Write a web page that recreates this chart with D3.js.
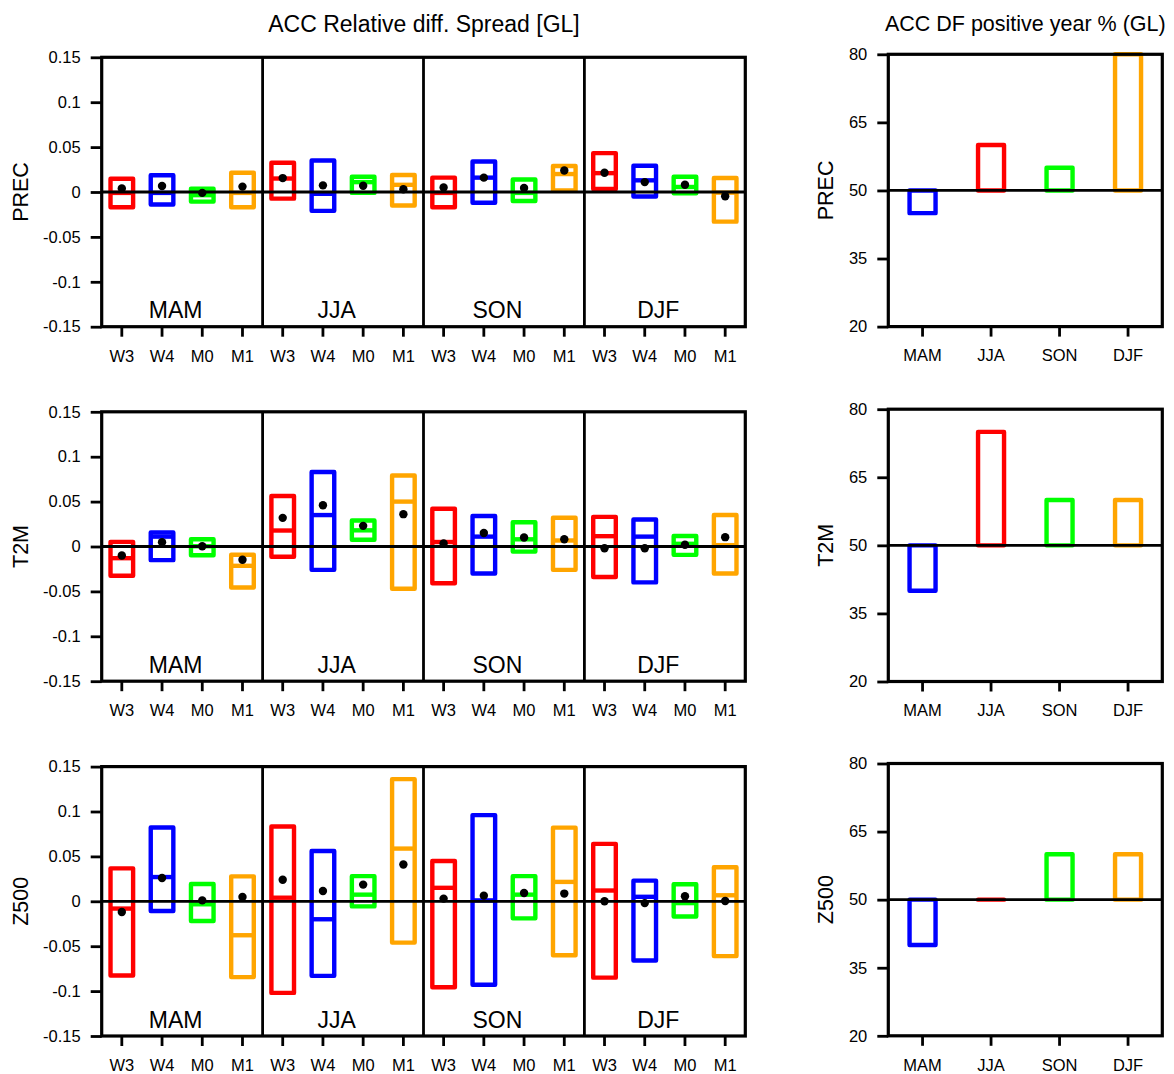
<!DOCTYPE html>
<html>
<head>
<meta charset="utf-8">
<script src="https://cdn.jsdelivr.net/npm/d3@7"></script>
<style>
  html, body { margin: 0; padding: 0; background: #fff; }
  svg { display: block; font-family: "Liberation Sans", Arial, Helvetica, sans-serif; }
</style>
</head>
<body>
<svg id="chart" width="1174" height="1074"></svg>
<script>
// ---------------- DATA ----------------
const seasons = ["MAM", "JJA", "SON", "DJF"];
const leads = ["W3", "W4", "M0", "M1"];
const variables = ["PREC", "T2M", "Z500"];
const leftTitle = "ACC Relative diff. Spread [GL]";
const rightTitle = "ACC DF positive year % (GL)";
const leftTickLabels = ["-0.15", "-0.1", "-0.05", "0", "0.05", "0.1", "0.15"];
const leftTickValues = [-0.15, -0.1, -0.05, 0, 0.05, 0.1, 0.15];
const rightTickLabels = ["20", "35", "50", "65", "80"];
const rightTickValues = [20, 35, 50, 65, 80];

// order: MAM(W3,W4,M0,M1), JJA(...), SON(...), DJF(...)
const precHigh   = [0.0148, 0.0186, 0.0037, 0.0214,  0.0326, 0.035, 0.017, 0.019,   0.016, 0.034, 0.014, 0.029,   0.0433, 0.0293, 0.017, 0.0156];
const precLow    = [-0.017, -0.014, -0.0107, -0.017, -0.0074, -0.021, -0.001, -0.015, -0.017, -0.012, -0.010, 0.0017, 0.0033, -0.005, -0.0015, -0.033];
const precMedian = [-0.001, -0.001, -0.0035, -0.001, 0.015, -0.002, 0.011, 0.008,    -0.001, 0.016, -0.001, 0.02,   0.021, 0.013, 0.0056, -0.0007];
const precMean   = [0.004, 0.0067, -0.001, 0.006,    0.0155, 0.0074, 0.007, 0.003,   0.005, 0.016, 0.0044, 0.024,   0.0215, 0.011, 0.008, -0.0048];

const t2mHigh    = [0.0052, 0.0156, 0.008, -0.0092,  0.0563, 0.083, 0.029, 0.079,    0.042, 0.034, 0.027, 0.032,    0.033, 0.030, 0.0117, 0.035];
const t2mLow     = [-0.0326, -0.0152, -0.0097, -0.0456, -0.0114, -0.026, 0.0075, -0.047, -0.041, -0.030, -0.0057, -0.026, -0.034, -0.040, -0.0093, -0.030];
const t2mMedian  = [-0.013, 0.011, 0.0003, -0.0215,  0.0178, 0.035, 0.018, 0.05,     0.005, 0.011, 0.008, 0.0067,   0.0115, 0.011, 0.003, 0.0015];
const t2mMean    = [-0.010, 0.0048, 0.0003, -0.0148, 0.0319, 0.046, 0.023, 0.036,    0.0033, 0.015, 0.01, 0.008,    -0.002, -0.002, 0.002, 0.0104];

const z500High   = [0.0367, 0.0822, 0.0192, 0.0278,  0.0833, 0.056, 0.028, 0.136,    0.0448, 0.096, 0.028, 0.082,   0.064, 0.023, 0.019, 0.038];
const z500Low    = [-0.0826, -0.0108, -0.0219, -0.0844, -0.102, -0.083, -0.0057, -0.046, -0.0957, -0.093, -0.019, -0.060, -0.085, -0.066, -0.017, -0.061];
const z500Median = [-0.0081, 0.027, -0.0033, -0.0378, 0.004, -0.02, 0.0074, 0.0587,  0.015, 0.001, 0.0074, 0.0216,  0.012, 0.005, -0.002, 0.0067];
const z500Mean   = [-0.0119, 0.026, 0.001, 0.0048,   0.024, 0.0115, 0.0186, 0.041,   0.003, 0.0063, 0.0093, 0.0086, 0.0, -0.002, 0.0056, 0.0004];

// right panels: % of years with positive DF, per season
const precPositive = [45, 60, 55, 80];
const t2mPositive  = [40, 75, 60, 60];
const z500Positive = [40, 50, 60, 60];

const leadColors = ["#ff0000", "#0000ff", "#00ff00", "#ffa500"];
const seasonColors = ["#0000ff", "#ff0000", "#00ff00", "#ffa500"];

// ---------------- BUILD ----------------
const leftData = [
  { name: variables[0], hi: precHigh, lo: precLow, med: precMedian, mean: precMean, pos: precPositive },
  { name: variables[1], hi: t2mHigh,  lo: t2mLow,  med: t2mMedian,  mean: t2mMean,  pos: t2mPositive },
  { name: variables[2], hi: z500High, lo: z500Low, med: z500Median, mean: z500Mean, pos: z500Positive }
];

const svg = d3.select("#chart");
const FONT = '"Liberation Sans", Arial, Helvetica, sans-serif';

const L = { x0: 101.7, x1: 745.3, tops: [57.3, 411.8, 766.6], h: 269.4 };
const R = { x0: 888.3, x1: 1162.3, tops: [54.3, 409.2, 763.5], h: 272.3 };

svg.append("text").attr("x", 424).attr("y", 31.7).attr("text-anchor", "middle")
  .attr("font-size", 23).attr("fill", "#000").text(leftTitle);
svg.append("text").attr("x", 1025.3).attr("y", 30.7).attr("text-anchor", "middle")
  .attr("font-size", 21.5).attr("fill", "#000").text(rightTitle);

function rectPath(xa, xb, ya, yb) {
  const p = d3.path();
  p.moveTo(xa, ya); p.lineTo(xb, ya); p.lineTo(xb, yb); p.lineTo(xa, yb); p.closePath();
  return p.toString();
}

function styleAxis(g, fs) {
  g.select(".domain").remove();
  g.selectAll(".tick line").attr("stroke", "#000").attr("stroke-width", 2.8);
  g.selectAll(".tick text").attr("font-size", fs).attr("font-family", FONT).attr("fill", "#000");
}

leftData.forEach((v, r) => {
  // ---------- left panel ----------
  const top = L.tops[r], bottom = top + L.h;
  const idx = d3.range(seasons.length * leads.length);
  const x = d3.scaleBand().domain(idx).range([L.x0, L.x1]);
  const y = d3.scaleLinear().domain([-0.15, 0.15]).range([bottom, top]);
  const g = svg.append("g");
  const hw = 11.3;

  idx.forEach(i => {
    const cx = x(i) + x.bandwidth() / 2;
    const col = leadColors[i % leads.length];
    g.append("path").attr("d", rectPath(cx - hw, cx + hw, y(v.hi[i]), y(v.lo[i])))
      .attr("fill", "none").attr("stroke", col).attr("stroke-width", 4.4)
      .attr("stroke-linejoin", "round");
    g.append("line").attr("x1", cx - hw).attr("x2", cx + hw)
      .attr("y1", y(v.med[i])).attr("y2", y(v.med[i]))
      .attr("stroke", col).attr("stroke-width", 4.4);
  });
  g.append("line").attr("x1", L.x0).attr("x2", L.x1).attr("y1", y(0)).attr("y2", y(0))
    .attr("stroke", "#000").attr("stroke-width", 2.8);
  idx.forEach(i => {
    const cx = x(i) + x.bandwidth() / 2;
    g.append("circle").attr("cx", cx).attr("cy", y(v.mean[i])).attr("r", 4.2).attr("fill", "#000");
  });
  // season dividers
  [1, 2, 3].forEach(s => {
    const xx = x(s * leads.length);
    g.append("line").attr("x1", xx).attr("x2", xx).attr("y1", top).attr("y2", bottom)
      .attr("stroke", "#000").attr("stroke-width", 2.8);
  });
  // season labels
  seasons.forEach((s, k) => {
    const xa = x(k * leads.length), xb = x(k * leads.length + leads.length - 1) + x.bandwidth();
    g.append("text").attr("x", (xa + xb) / 2 - 6.5).attr("y", bottom - 8.4)
      .attr("text-anchor", "middle").attr("font-size", 23).attr("fill", "#000").text(s);
  });
  g.append("rect").attr("x", L.x0).attr("y", top).attr("width", L.x1 - L.x0).attr("height", L.h)
    .attr("fill", "none").attr("stroke", "#000").attr("stroke-width", 3.2);

  const ya = g.append("g").attr("transform", `translate(${L.x0},0)`)
    .call(d3.axisLeft(y).tickValues(leftTickValues)
      .tickFormat((d, i) => leftTickLabels[i]).tickSize(11).tickPadding(10));
  styleAxis(ya, 16.5);
  const xa = g.append("g").attr("transform", `translate(0,${bottom})`)
    .call(d3.axisBottom(x).tickFormat(i => leads[i % leads.length]).tickSize(10).tickPadding(13.3));
  styleAxis(xa, 16.5);

  g.append("text").attr("transform", `translate(28.3,${(top + bottom) / 2}) rotate(-90)`)
    .attr("text-anchor", "middle").attr("font-size", 21.5).attr("fill", "#000").text(v.name);

  // ---------- right panel ----------
  const rtop = R.tops[r], rbottom = rtop + R.h;
  const xr = d3.scaleBand().domain(seasons).range([R.x0, R.x1]);
  const yr = d3.scaleLinear().domain([20, 80]).range([rbottom, rtop]);
  const gr = svg.append("g");
  const rhw = 13;
  seasons.forEach((s, k) => {
    const cx = xr(s) + xr.bandwidth() / 2;
    gr.append("path").attr("d", rectPath(cx - rhw, cx + rhw, yr(50), yr(v.pos[k])))
      .attr("fill", "none").attr("stroke", seasonColors[k]).attr("stroke-width", 4.4)
      .attr("stroke-linejoin", "round");
  });
  gr.append("line").attr("x1", R.x0).attr("x2", R.x1).attr("y1", yr(50)).attr("y2", yr(50))
    .attr("stroke", "#000").attr("stroke-width", 2.8);
  gr.append("rect").attr("x", R.x0).attr("y", rtop).attr("width", R.x1 - R.x0).attr("height", R.h)
    .attr("fill", "none").attr("stroke", "#000").attr("stroke-width", 3.2);
  const yra = gr.append("g").attr("transform", `translate(${R.x0},0)`)
    .call(d3.axisLeft(yr).tickValues(rightTickValues)
      .tickFormat((d, i) => rightTickLabels[i]).tickSize(11).tickPadding(10));
  styleAxis(yra, 16.5);
  const xra = gr.append("g").attr("transform", `translate(0,${rbottom})`)
    .call(d3.axisBottom(xr).tickSize(10).tickPadding(13));
  styleAxis(xra, 16.5);
  gr.append("text").attr("transform", `translate(833.3,${(rtop + rbottom) / 2}) rotate(-90)`)
    .attr("text-anchor", "middle").attr("font-size", 21.5).attr("fill", "#000").text(v.name);
});
</script>
</body>
</html>
